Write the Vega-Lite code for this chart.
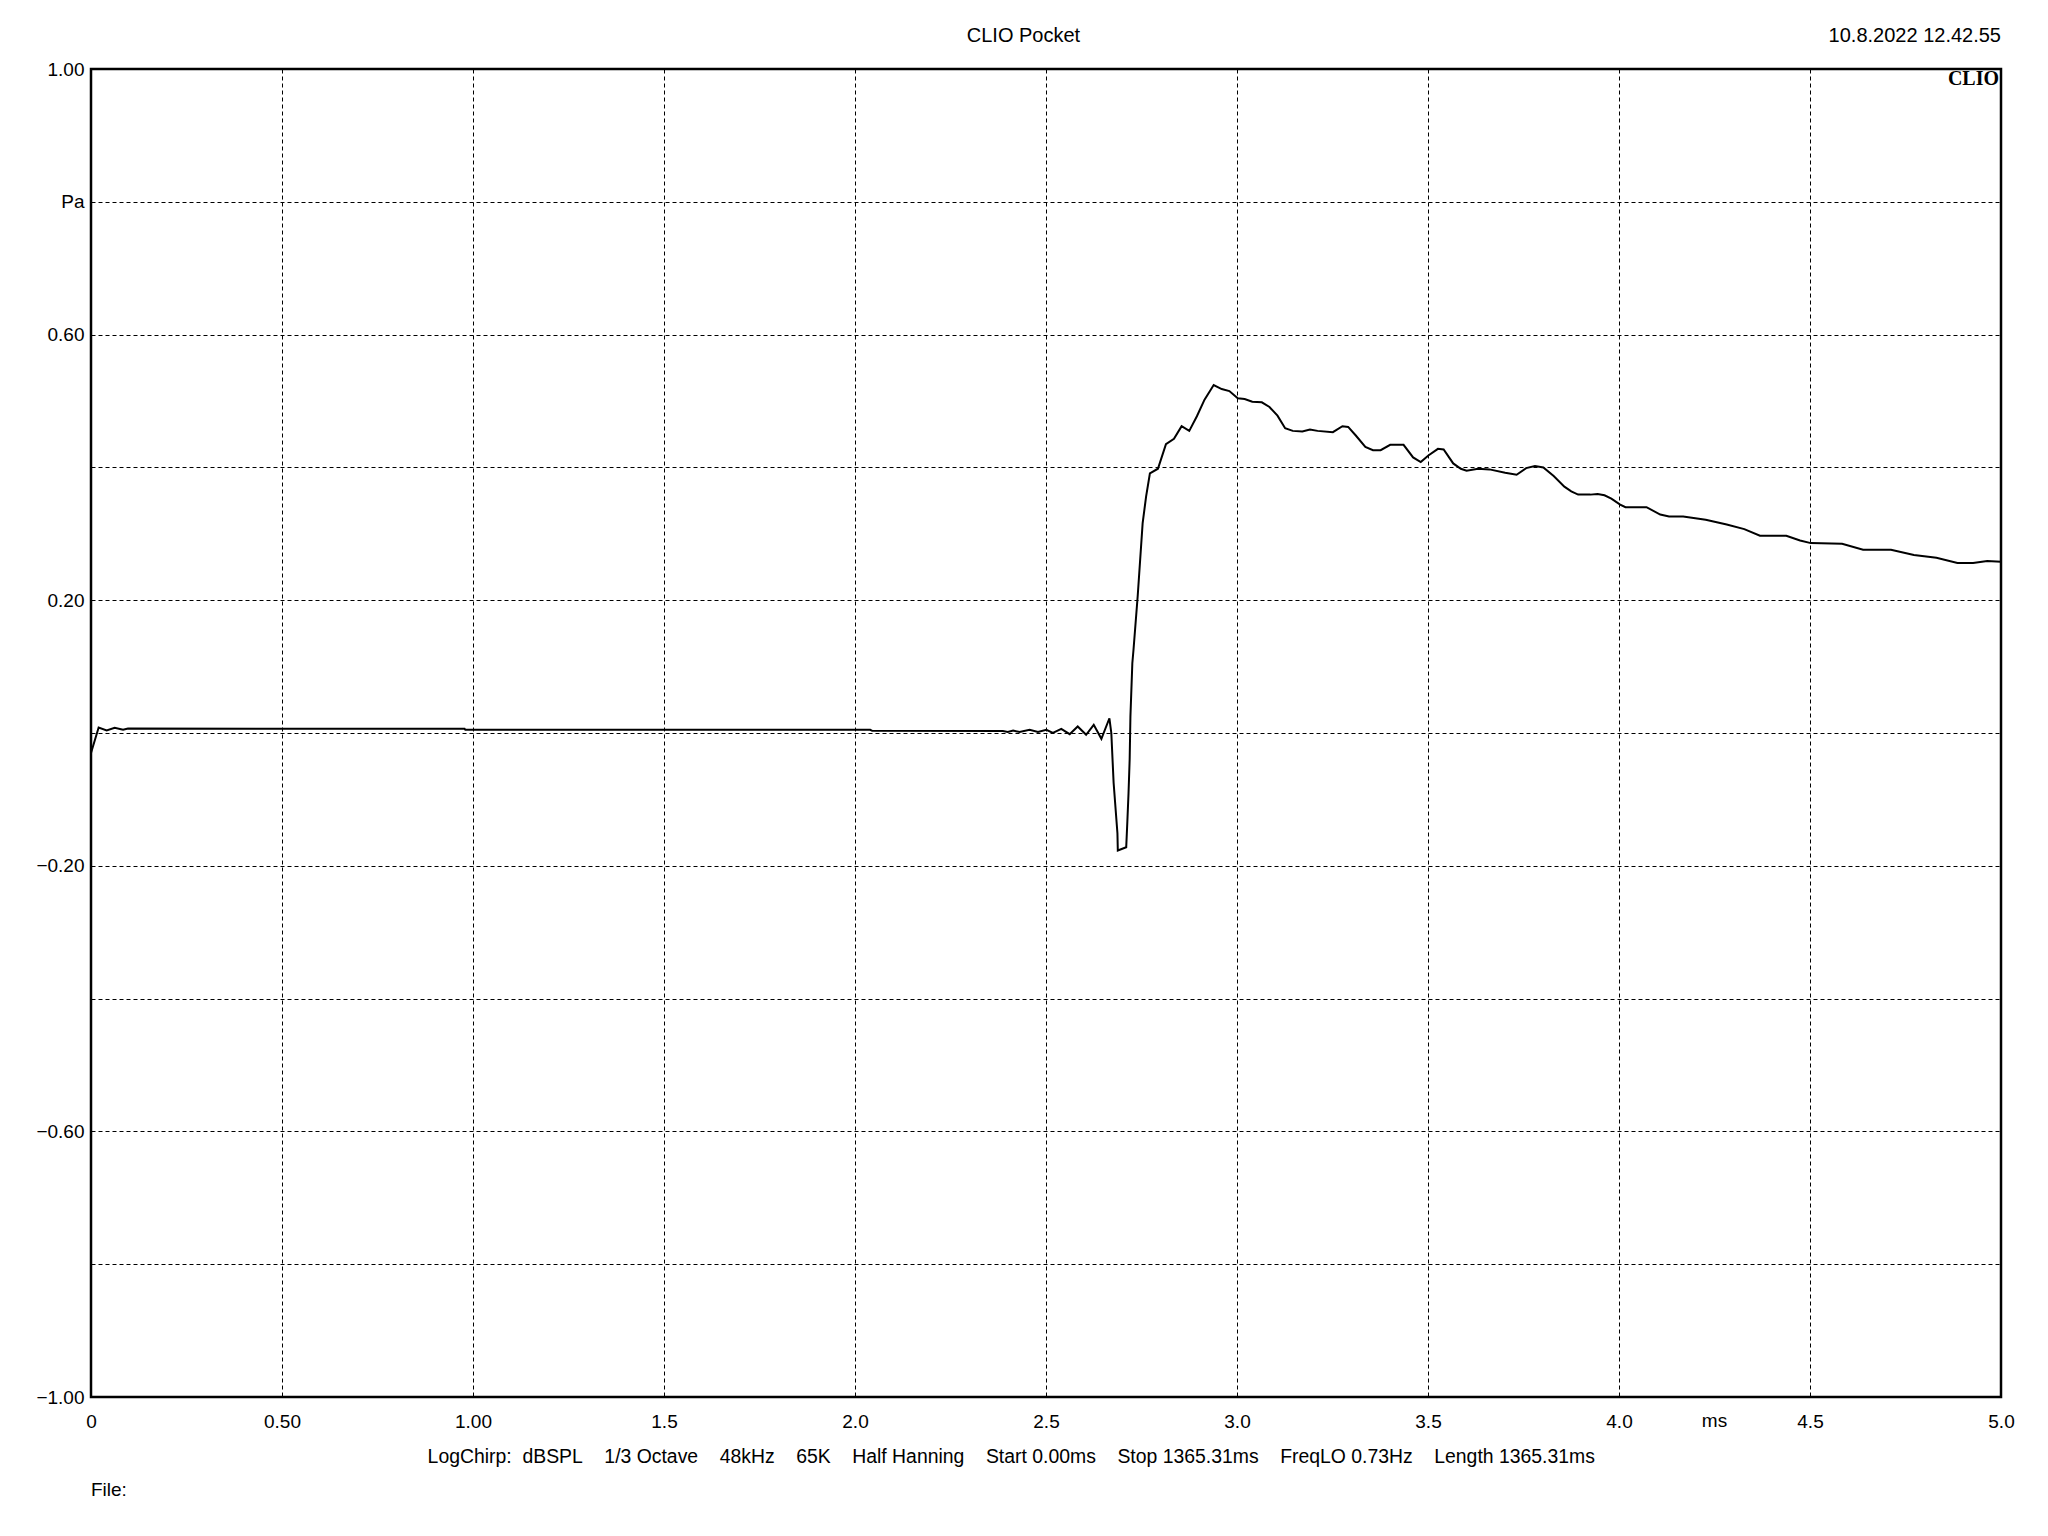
{
  "$schema": "https://vega.github.io/schema/vega-lite/v6.json",
  "autosize": "none",
  "width": 1910,
  "height": 1328,
  "padding": {"left": 91, "top": 69, "right": 47, "bottom": 139},
  "background": "white",
  "config": {
    "view": {"stroke": "black", "strokeWidth": 2.5},
    "axis": {"labelFont": "Liberation Sans", "labelFontSize": 19, "labelColor": "black", "grid": true, "gridColor": "black", "gridOpacity": 1, "gridDash": [4, 3], "gridWidth": 1, "domain": false, "ticks": false, "tickSize": 0, "labelFlush": false, "labelOverlap": false, "labelBound": false, "title": null}
  },
  "encoding": {
    "x": {"field": "t", "type": "quantitative", "scale": {"domain": [0, 5], "nice": false, "zero": false},
      "axis": {"values": [0, 0.5, 1, 1.5, 2, 2.5, 3, 3.5, 4, 4.5, 5], "labelExpr": "datum.value == 0 ? '0' : (abs(datum.value - 0.5) < 0.01 || abs(datum.value - 1) < 0.01) ? format(datum.value, '.2f') : format(datum.value, '.1f')", "labelBaseline": "alphabetic", "labelPadding": 30}},
    "y": {"field": "p", "type": "quantitative", "scale": {"domain": [-1, 1], "nice": false, "zero": false},
      "axis": {"values": [-1, -0.8, -0.6, -0.4, -0.2, 0, 0.2, 0.4, 0.6, 0.8, 1], "labelExpr": "abs(datum.value - 0.8) < 0.01 ? 'Pa' : (abs(datum.value) < 0.01 || abs(abs(datum.value) - 0.4) < 0.01 || abs(datum.value + 0.8) < 0.01) ? '' : format(datum.value, '.2f')", "labelBaseline": "middle", "labelPadding": 7}}
  },
  "layer": [
    {
      "data": {"values": [
        {"t": 0, "p": -0.030}, {"t": 0.02, "p": 0.0083}, {"t": 0.041, "p": 0.004}, {"t": 0.062, "p": 0.008}, {"t": 0.084, "p": 0.005}, {"t": 0.097, "p": 0.0068},
        {"t": 0.5, "p": 0.0065}, {"t": 0.978, "p": 0.0063}, {"t": 0.98, "p": 0.0048}, {"t": 2.04, "p": 0.0048}, {"t": 2.045, "p": 0.0033}, {"t": 2.387, "p": 0.003},
        {"t": 2.4, "p": 0.0014}, {"t": 2.414, "p": 0.0038}, {"t": 2.431, "p": 0.0014}, {"t": 2.457, "p": 0.0048}, {"t": 2.479, "p": 0.0014}, {"t": 2.501, "p": 0.0048},
        {"t": 2.518, "p": 0.0003}, {"t": 2.54, "p": 0.0063}, {"t": 2.562, "p": -0.0017}, {"t": 2.583, "p": 0.0098}, {"t": 2.605, "p": -0.0027}, {"t": 2.625, "p": 0.0123},
        {"t": 2.645, "p": -0.0087}, {"t": 2.666, "p": 0.0222}, {"t": 2.671, "p": 0.0}, {"t": 2.677, "p": -0.075}, {"t": 2.687, "p": -0.151}, {"t": 2.688, "p": -0.177},
        {"t": 2.71, "p": -0.172}, {"t": 2.713, "p": -0.133}, {"t": 2.716, "p": -0.091}, {"t": 2.719, "p": -0.04}, {"t": 2.721, "p": 0.025}, {"t": 2.726, "p": 0.105},
        {"t": 2.729, "p": 0.125}, {"t": 2.74, "p": 0.206}, {"t": 2.753, "p": 0.316}, {"t": 2.762, "p": 0.356}, {"t": 2.772, "p": 0.391}, {"t": 2.793, "p": 0.398},
        {"t": 2.814, "p": 0.435}, {"t": 2.835, "p": 0.443}, {"t": 2.855, "p": 0.462}, {"t": 2.875, "p": 0.455}, {"t": 2.895, "p": 0.477}, {"t": 2.915, "p": 0.502},
        {"t": 2.939, "p": 0.524}, {"t": 2.96, "p": 0.518}, {"t": 2.98, "p": 0.515}, {"t": 3.002, "p": 0.504}, {"t": 3.02, "p": 0.503}, {"t": 3.04, "p": 0.499},
        {"t": 3.065, "p": 0.498}, {"t": 3.085, "p": 0.491}, {"t": 3.106, "p": 0.478}, {"t": 3.126, "p": 0.459}, {"t": 3.146, "p": 0.455}, {"t": 3.171, "p": 0.454},
        {"t": 3.191, "p": 0.457}, {"t": 3.211, "p": 0.455}, {"t": 3.251, "p": 0.453}, {"t": 3.276, "p": 0.462}, {"t": 3.291, "p": 0.461}, {"t": 3.311, "p": 0.448},
        {"t": 3.336, "p": 0.431}, {"t": 3.356, "p": 0.426}, {"t": 3.376, "p": 0.426}, {"t": 3.401, "p": 0.434}, {"t": 3.436, "p": 0.434}, {"t": 3.461, "p": 0.415},
        {"t": 3.481, "p": 0.408}, {"t": 3.501, "p": 0.418}, {"t": 3.526, "p": 0.428}, {"t": 3.541, "p": 0.427}, {"t": 3.566, "p": 0.406}, {"t": 3.586, "p": 0.398},
        {"t": 3.601, "p": 0.395}, {"t": 3.631, "p": 0.398}, {"t": 3.661, "p": 0.397}, {"t": 3.702, "p": 0.392}, {"t": 3.732, "p": 0.389}, {"t": 3.757, "p": 0.399},
        {"t": 3.78, "p": 0.402}, {"t": 3.802, "p": 0.4}, {"t": 3.829, "p": 0.387}, {"t": 3.857, "p": 0.371}, {"t": 3.875, "p": 0.364}, {"t": 3.893, "p": 0.359},
        {"t": 3.925, "p": 0.359}, {"t": 3.944, "p": 0.36}, {"t": 3.962, "p": 0.358}, {"t": 3.98, "p": 0.353}, {"t": 4.003, "p": 0.344}, {"t": 4.017, "p": 0.34},
        {"t": 4.072, "p": 0.34}, {"t": 4.108, "p": 0.329}, {"t": 4.131, "p": 0.326}, {"t": 4.168, "p": 0.326}, {"t": 4.227, "p": 0.321}, {"t": 4.282, "p": 0.314},
        {"t": 4.328, "p": 0.307}, {"t": 4.369, "p": 0.297}, {"t": 4.438, "p": 0.297}, {"t": 4.474, "p": 0.29}, {"t": 4.502, "p": 0.286}, {"t": 4.584, "p": 0.285},
        {"t": 4.639, "p": 0.276}, {"t": 4.712, "p": 0.276}, {"t": 4.772, "p": 0.268}, {"t": 4.831, "p": 0.264}, {"t": 4.886, "p": 0.256}, {"t": 4.927, "p": 0.256},
        {"t": 4.964, "p": 0.259}, {"t": 5.0, "p": 0.258}
      ]},
      "mark": {"type": "line", "color": "black", "strokeWidth": 2, "interpolate": "linear"}
    },
    {
      "data": {"values": [{"t": 2.441, "p": 1, "label": "CLIO Pocket"}]},
      "mark": {"type": "text", "align": "center", "baseline": "alphabetic", "dy": -27.5, "font": "Liberation Sans", "fontSize": 20, "color": "black"},
      "encoding": {"text": {"field": "label"}}
    },
    {
      "data": {"values": [{"t": 5, "p": 1, "label": "10.8.2022 12.42.55"}]},
      "mark": {"type": "text", "align": "right", "baseline": "alphabetic", "dy": -27.5, "font": "Liberation Sans", "fontSize": 20, "color": "black"},
      "encoding": {"text": {"field": "label"}}
    },
    {
      "data": {"values": [{"t": 5, "p": 1, "label": "CLIO"}]},
      "mark": {"type": "text", "align": "right", "baseline": "alphabetic", "dx": -2, "dy": 16, "font": "Liberation Serif", "fontSize": 20, "fontWeight": "bold", "color": "black"},
      "encoding": {"text": {"field": "label"}}
    },
    {
      "data": {"values": [{"t": 4.25, "p": -1, "label": "ms"}]},
      "mark": {"type": "text", "align": "center", "baseline": "alphabetic", "dy": 30, "font": "Liberation Sans", "fontSize": 19, "color": "black"},
      "encoding": {"text": {"field": "label"}}
    },
    {
      "data": {"values": [{"t": 2.409, "p": -1, "label": "LogChirp:\u00a0\u00a0dBSPL\u00a0\u00a0\u00a0 1/3 Octave\u00a0\u00a0\u00a0 48kHz\u00a0\u00a0\u00a0 65K\u00a0\u00a0\u00a0 Half Hanning\u00a0\u00a0\u00a0 Start 0.00ms\u00a0\u00a0\u00a0 Stop 1365.31ms\u00a0\u00a0\u00a0 FreqLO 0.73Hz\u00a0\u00a0\u00a0 Length 1365.31ms"}]},
      "mark": {"type": "text", "align": "center", "baseline": "alphabetic", "dy": 66, "font": "Liberation Sans", "fontSize": 19.4, "color": "black"},
      "encoding": {"text": {"field": "label"}}
    },
    {
      "data": {"values": [{"t": 0, "p": -1, "label": "File:"}]},
      "mark": {"type": "text", "align": "left", "baseline": "alphabetic", "dy": 99, "font": "Liberation Sans", "fontSize": 19, "color": "black"},
      "encoding": {"text": {"field": "label"}}
    }
  ]
}
